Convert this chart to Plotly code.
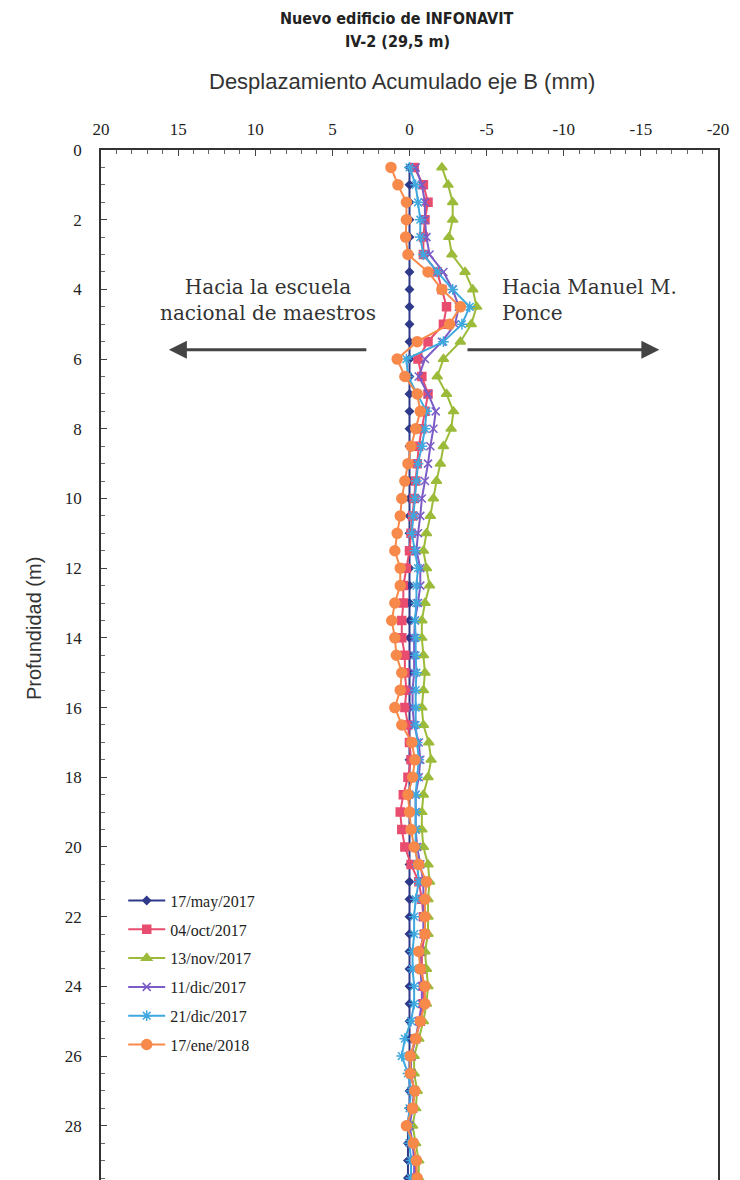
import plotly.graph_objects as go

depth = [0.5, 1.0, 1.5, 2.0, 2.5, 3.0, 3.5, 4.0, 4.5, 5.0, 5.5, 6.0, 6.5, 7.0, 7.5, 8.0, 8.5, 9.0, 9.5, 10.0,
         10.5, 11.0, 11.5, 12.0, 12.5, 13.0, 13.5, 14.0, 14.5, 15.0, 15.5, 16.0, 16.5, 17.0, 17.5, 18.0, 18.5, 19.0, 19.5, 20.0,
         20.5, 21.0, 21.5, 22.0, 22.5, 23.0, 23.5, 24.0, 24.5, 25.0, 25.5, 26.0, 26.5, 27.0, 27.5, 28.0, 28.5, 29.0, 29.5]

may_2017 = [0.0, 0.0, 0.0, 0.0, 0.0, 0.0, 0.0, 0.0, 0.0, 0.0, 0.0, 0.0, 0.0, 0.0, 0.0, 0.0, 0.0, 0.0, 0.0, 0.0,
            0.0, 0.0, 0.0, 0.0, 0.0, 0.0, 0.0, 0.0, 0.0, 0.0, 0.0, 0.0, 0.0, 0.0, 0.0, 0.0, 0.0, 0.0, 0.0, 0.0,
            0.0, 0.0, 0.0, 0.0, 0.0, 0.0, 0.0, 0.0, 0.0, 0.0, 0.0, 0.0, 0.0, 0.0, 0.0, 0.1, 0.1, 0.1, 0.1]

oct_2017 = [-0.3, -0.9, -1.2, -1.0, -0.9, -0.9, -1.8, -2.1, -2.4, -2.2, -1.2, -0.55, -0.8, -1.2, -1.0, -0.8, -0.6, -0.5, -0.4, -0.3,
            -0.2, -0.1, 0.0, 0.2, 0.4, 0.4, 0.5, 0.5, 0.3, 0.3, 0.2, 0.3, 0.1, 0.0, -0.1, 0.1, 0.4, 0.6, 0.5, 0.3,
            -0.1, -0.6, -0.8, -0.9, -1.0, -0.8, -0.8, -0.9, -0.9, -0.7, -0.4, -0.1, -0.1, -0.3, -0.2, 0.1, -0.2, -0.4, -0.4]

nov_2017 = [-2.1, -2.5, -2.8, -2.8, -2.55, -2.75, -3.6, -4.1, -4.35, -4.0, -3.3, -2.2, -1.8, -2.4, -2.85, -2.7, -2.2, -2.0, -1.75, -1.55,
            -1.35, -1.1, -0.9, -1.1, -1.3, -1.0, -0.8, -0.8, -0.9, -1.0, -0.9, -0.8, -0.9, -1.25, -1.4, -1.2, -0.9, -0.8, -0.8, -0.9,
            -1.2, -1.3, -1.2, -1.2, -1.2, -1.0, -1.1, -1.2, -1.1, -0.9, -0.6, -0.3, -0.3, -0.5, -0.4, -0.2, -0.4, -0.6, -0.6]

dic11_2017 = [-0.4, -0.8, -1.0, -1.0, -1.1, -1.3, -2.2, -2.8, -3.2, -2.95, -2.1, -1.0, -0.6, -1.2, -1.7, -1.55, -1.35, -1.2, -1.0, -0.8,
              -0.7, -0.55, -0.45, -0.7, -0.7, -0.55, -0.35, -0.3, -0.3, -0.3, -0.2, -0.2, -0.3, -0.6, -0.7, -0.6, -0.4, -0.4, -0.4, -0.5,
              -0.7, -0.9, -0.9, -0.9, -0.9, -0.7, -0.7, -0.8, -0.8, -0.6, -0.4, -0.1, -0.1, -0.3, -0.2, 0.0, -0.2, -0.3, -0.3]

dic21_2017 = [0.0, -0.4, -0.55, -0.7, -0.7, -0.9, -1.8, -2.8, -3.9, -3.4, -2.2, 0.2, 0.1, -0.5, -1.1, -1.0, -0.8, -0.55, -0.45, -0.35,
              -0.25, -0.15, -0.35, -0.55, -0.45, -0.45, -0.35, -0.4, -0.4, -0.45, -0.4, -0.4, -0.4, -0.5, -0.6, -0.5, -0.4, -0.4, -0.4, -0.4,
              -0.5, -0.6, -0.4, -0.3, -0.3, -0.2, -0.2, -0.3, -0.3, -0.1, 0.3, 0.5, 0.1, -0.1, 0.0, 0.1, 0.0, -0.1, -0.1]

ene_2018 = [1.2, 0.75, 0.2, 0.2, 0.25, 0.1, -1.2, -2.1, -3.3, -2.6, -0.5, 0.8, 0.3, -0.5, -0.7, -0.4, -0.1, 0.1, 0.3, 0.5,
            0.6, 0.8, 0.95, 0.6, 0.6, 0.95, 1.15, 0.95, 0.85, 0.5, 0.6, 0.95, 0.5, -0.15, -0.35, -0.2, 0.1, 0.0, -0.1, -0.3,
            -0.6, -1.1, -1.0, -1.0, -1.0, -0.6, -0.7, -1.0, -1.0, -0.7, -0.4, -0.05, -0.05, -0.35, -0.2, 0.2, -0.25, -0.45, -0.5]

series_names = ["17/may/2017", "04/oct/2017", "13/nov/2017", "11/dic/2017", "21/dic/2017", "17/ene/2018"]
series_values = [may_2017, oct_2017, nov_2017, dic11_2017, dic21_2017, ene_2018]
colors = ["#2F3A8A", "#E84C6E", "#9CBB3A", "#7B5BC6", "#3FA8DF", "#F7894B"]
symbols = ["diamond", "square", "triangle-up", "x-thin-open", "asterisk-open", "circle"]
sizes = [6, 8, 9, 8, 9, 10]

x_ticks = [20, 15, 10, 5, 0, -5, -10, -15, -20]
y_ticks = [0, 2, 4, 6, 8, 10, 12, 14, 16, 18, 20, 22, 24, 26, 28]

fig = go.Figure()
for name, vals, c, sym, sz in zip(series_names, series_values, colors, symbols, sizes):
    fig.add_trace(go.Scatter(
        x=vals, y=depth, name=name, mode="lines+markers",
        line=dict(color=c, width=2),
        marker=dict(symbol=sym, size=sz, color=c, line=dict(color=c, width=1.5)),
        legendgroup=name,
    ))

SERIF = "Liberation Serif, Times New Roman, serif"
SANS = "Liberation Sans, Arial, sans-serif"
NARROW = "Liberation Sans Narrow, DejaVu Sans Condensed, Arial Narrow, sans-serif"

# page body has an 8px margin: compensate so the plot box lands where the reference has it;
# the plot continues below the visible window (depth axis cut at ~29.5 m as in the reference)
PLOT_H = 1180 - 142
Y_MAX = 29.5 + 8 / 34.93

fig.update_layout(
    width=740, height=1180,
    margin=dict(l=93, r=30, t=142, b=0, pad=0),
    paper_bgcolor="white", plot_bgcolor="white",
    showlegend=True,
    legend=dict(x=0.036, y=1 - (901 - 16 - 8 - 142) / PLOT_H, xanchor="left", yanchor="top",
                font=dict(family=SERIF, size=16, color="#222"),
                bgcolor="rgba(0,0,0,0)", tracegroupgap=5, itemsizing="trace", itemwidth=37),
    xaxis=dict(range=[20, -20], side="top", tickvals=x_ticks, ticktext=[str(v) for v in x_ticks],
               ticks="inside", ticklen=6, tickwidth=1, tickcolor="#444",
               minor=dict(dtick=1, ticks="inside", ticklen=4, tickcolor="#666"),
               showgrid=False, zeroline=False, showline=True, linecolor="#333", linewidth=1.5, mirror=True,
               tickfont=dict(family=SERIF, size=17, color="#222"), ticklabelstandoff=6),
    yaxis=dict(range=[Y_MAX, 0], tickvals=y_ticks, ticks="inside", ticklen=6, tickwidth=1, tickcolor="#444",
               minor=dict(dtick=0.5, ticks="inside", ticklen=4, tickcolor="#666"),
               showgrid=False, zeroline=False, showline=True, linecolor="#333", linewidth=1.5, mirror=True,
               tickfont=dict(family=SERIF, size=17, color="#222"), ticklabelstandoff=14),
)

annots = [
    dict(text="<b>Nuevo edificio de INFONAVIT</b>", x=(397 - 101) / 617, y=1 + (150 - 18) / PLOT_H,
         font=dict(family=NARROW, size=16, color="#222")),
    dict(text="<b>IV-2 (29,5 m)</b>", x=(397 - 101) / 617, y=1 + (150 - 41) / PLOT_H,
         font=dict(family=NARROW, size=16, color="#222")),
    dict(text="Desplazamiento Acumulado eje B (mm)", x=(402 - 101) / 617, y=1 + (150 - 81) / PLOT_H,
         font=dict(family=SANS, size=22, color="#333")),
    dict(text="Profundidad (m)", x=-(101 - 34) / 617, y=1 - (630 - 150) / PLOT_H, textangle=-90,
         font=dict(family=SANS, size=20, color="#333")),
]
for a in annots:
    fig.add_annotation(xref="paper", yref="paper", showarrow=False, xanchor="center", yanchor="middle", **a)

fig.add_annotation(xref="x", yref="y", x=9.15, y=4.3, showarrow=False, align="center",
                   text="Hacia la escuela<br>nacional de maestros",
                   font=dict(family="DejaVu Serif, serif", size=20, color="#333"))
fig.add_annotation(xref="x", yref="y", x=-5.85, y=4.3, showarrow=False, align="left", xanchor="left",
                   text="Hacia Manuel M.<br>Ponce",
                   font=dict(family="DejaVu Serif, serif", size=20, color="#333"))
# arrows
fig.add_annotation(xref="x", yref="y", axref="x", ayref="y", x=15.6, y=5.73, ax=2.7, ay=5.73, text="",
                   showarrow=True, arrowhead=2, arrowsize=1.2, arrowwidth=3, arrowcolor="#444")
fig.add_annotation(xref="x", yref="y", axref="x", ayref="y", x=-16.2, y=5.73, ax=-3.66, ay=5.73, text="",
                   showarrow=True, arrowhead=2, arrowsize=1.2, arrowwidth=3, arrowcolor="#444")

fig.write_html("out.html")
